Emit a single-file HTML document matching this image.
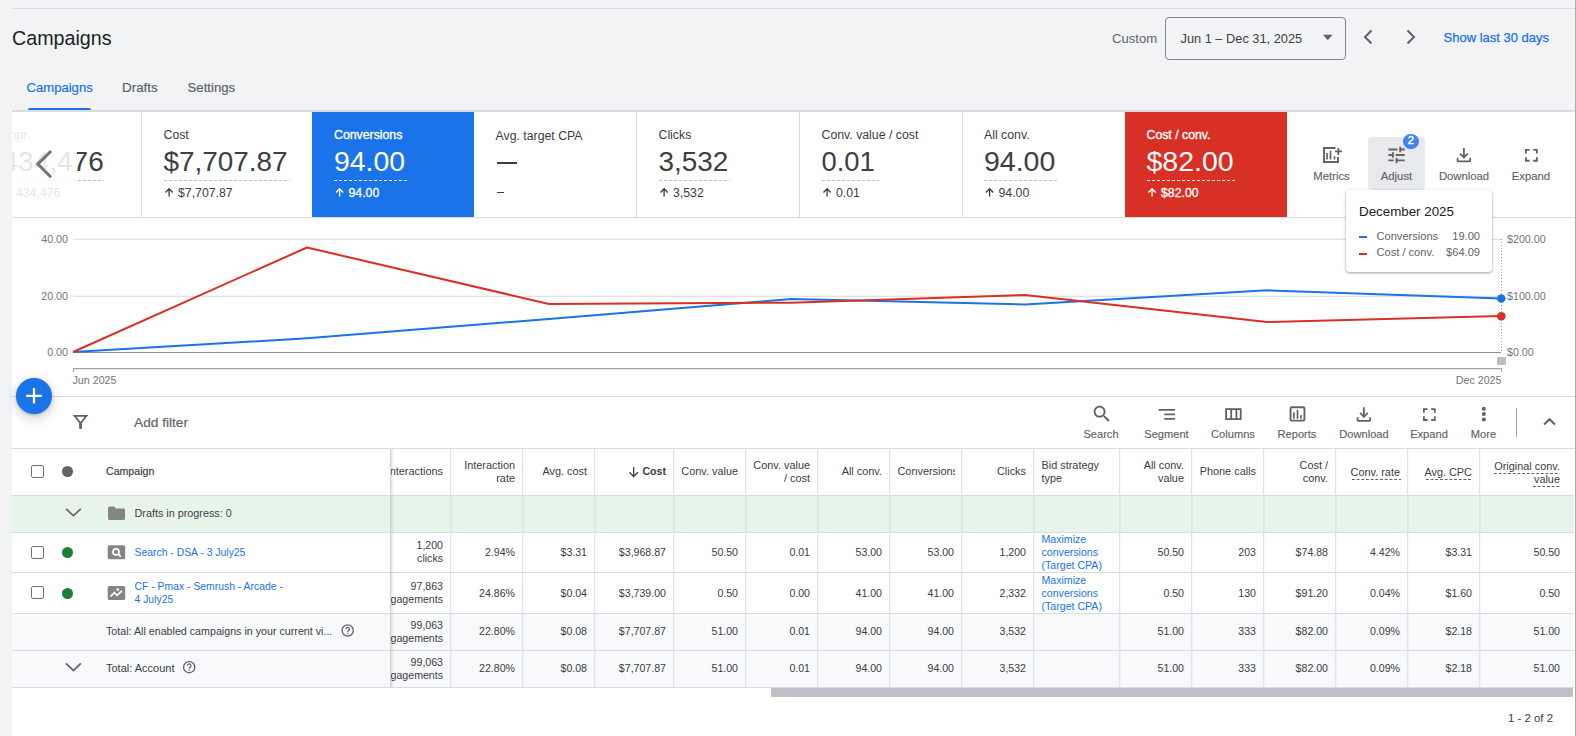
<!DOCTYPE html>
<html><head><meta charset="utf-8"><style>
html,body{margin:0;padding:0;}
body{width:1576px;height:736px;position:relative;overflow:hidden;background:#f1f3f4;font-family:"Liberation Sans",sans-serif;}
.t{position:absolute;line-height:1;white-space:nowrap;}
.r{position:absolute;box-sizing:border-box;}
svg.pg{position:absolute;left:0;top:0;pointer-events:none;}
</style></head><body>
<div class="r" style="left:12px;top:8px;width:1563px;height:1px;background:#dadce0;"></div>
<div class="t" style="left:12.00px;top:28.72px;font-size:19.7px;color:#202124;font-weight:normal;">Campaigns</div>
<div class="t" style="left:1112.00px;top:32.31px;font-size:13.1px;color:#5f6368;font-weight:normal;">Custom</div>
<div class="r" style="left:1165px;top:17px;width:181px;height:43px;border:1px solid #80868b;border-radius:4px;"></div>
<div class="t" style="left:1180.50px;top:32.56px;font-size:12.8px;color:#3c4043;font-weight:normal;">Jun 1 – Dec 31, 2025</div>
<svg class="pg" width="1576" height="736" viewBox="0 0 1576 736"><path d="M1323 34.8h9.5l-4.75 5.5z" fill="#5f6368"/><path d="M1371.5 30.5L1365 37l6.5 6.5" stroke="#5f6368" stroke-width="2" fill="none"/><path d="M1407.5 30.5L1414 37l-6.5 6.5" stroke="#5f6368" stroke-width="2" fill="none"/></svg>
<div class="t" style="left:1443.50px;top:31.39px;font-size:13px;color:#1a73e8;font-weight:normal;-webkit-text-stroke:0.25px #1a73e8;">Show last 30 days</div>
<div class="t" style="left:26.50px;top:81.31px;font-size:13.1px;color:#1a73e8;font-weight:normal;-webkit-text-stroke:0.2px #1a73e8;">Campaigns</div>
<div class="r" style="left:28px;top:108px;width:63px;height:2px;background:#1a73e8;border-radius:2px 2px 0 0;"></div>
<div class="t" style="left:122.00px;top:81.05px;font-size:13.4px;color:#5f6368;font-weight:normal;-webkit-text-stroke:0.2px #5f6368;">Drafts</div>
<div class="t" style="left:187.50px;top:81.22px;font-size:13.2px;color:#5f6368;font-weight:normal;-webkit-text-stroke:0.2px #5f6368;">Settings</div>
<div class="r" style="left:12px;top:110px;width:1563px;height:2px;background:#dadce0;"></div>
<div class="r" style="left:1575px;top:0px;width:1px;height:736px;background:#a9abae;"></div>
<div class="r" style="left:12px;top:112px;width:1563px;height:624px;background:#ffffff;"></div>
<div class="r" style="left:12px;top:217px;width:1563px;height:1px;background:#dadce0;"></div>
<div class="r" style="left:141px;top:112px;width:1px;height:105px;background:#dadce0;"></div>
<div class="r" style="left:636px;top:112px;width:1px;height:105px;background:#dadce0;"></div>
<div class="r" style="left:799px;top:112px;width:1px;height:105px;background:#dadce0;"></div>
<div class="r" style="left:962px;top:112px;width:1px;height:105px;background:#dadce0;"></div>
<div class="r" style="left:312px;top:112px;width:162px;height:105px;background:#1a73e8;"></div>
<div class="r" style="left:1125px;top:112px;width:162px;height:105px;background:#d93025;"></div>
<div class="t" style="left:2.50px;top:128.99px;font-size:12.3px;color:#3c4043;font-weight:normal;">Impr.</div>
<div class="t" style="left:2.50px;top:147.69px;font-size:28px;color:#3c4043;font-weight:normal;">434,476</div>
<div class="r" style="left:2.5px;top:180px;width:101px;height:1px;background-image:linear-gradient(to right,#bdc1c6 60%,transparent 60%);background-size:5px 1px;"></div>
<svg class="pg" width="1576" height="736" viewBox="0 0 1576 736"><path d="M8.1 196.5V188.8M4.5 192.4L8.1 188.8L11.7 192.4" stroke="#3c4043" stroke-width="1.35" fill="none"/></svg>
<div class="t" style="left:16.00px;top:186.99px;font-size:12.3px;color:#3c4043;font-weight:normal;">434,476</div>
<div class="t" style="left:163.50px;top:128.99px;font-size:12.3px;color:#3c4043;font-weight:normal;">Cost</div>
<div class="t" style="left:163.50px;top:147.78px;font-size:27.9px;color:#3c4043;font-weight:normal;">$7,707.87</div>
<div class="r" style="left:163.5px;top:180px;width:126px;height:1px;background-image:linear-gradient(to right,#bdc1c6 60%,transparent 60%);background-size:5px 1px;"></div>
<svg class="pg" width="1576" height="736" viewBox="0 0 1576 736"><path d="M169.1 196.5V188.8M165.5 192.4L169.1 188.8L172.7 192.4" stroke="#3c4043" stroke-width="1.35" fill="none"/></svg>
<div class="t" style="left:178.00px;top:186.99px;font-size:12.3px;color:#3c4043;font-weight:normal;">$7,707.87</div>
<div class="t" style="left:334.00px;top:128.99px;font-size:12.3px;color:#ffffff;font-weight:normal;-webkit-text-stroke:0.35px #fff;">Conversions</div>
<div class="t" style="left:334.00px;top:147.35px;font-size:28.4px;color:#ffffff;font-weight:normal;">94.00</div>
<div class="r" style="left:334px;top:180px;width:73px;height:1px;background-image:linear-gradient(to right,#ffffff 60%,transparent 60%);background-size:5px 1px;"></div>
<svg class="pg" width="1576" height="736" viewBox="0 0 1576 736"><path d="M339.6 196.5V188.8M336.0 192.4L339.6 188.8L343.2 192.4" stroke="#ffffff" stroke-width="1.35" fill="none"/></svg>
<div class="t" style="left:348.50px;top:186.99px;font-size:12.3px;color:#ffffff;font-weight:normal;-webkit-text-stroke:0.3px #fff;">94.00</div>
<div class="t" style="left:495.50px;top:128.99px;font-size:12.3px;color:#3c4043;font-weight:normal;"></div>
<div class="t" style="left:495.50px;top:147.69px;font-size:28px;color:#3c4043;font-weight:normal;"></div>
<div class="t" style="left:495.50px;top:186.24px;font-size:12px;color:#3c4043;font-weight:normal;"></div>
<div class="t" style="left:495.50px;top:129.99px;font-size:12.3px;color:#3c4043;font-weight:normal;">Avg. target CPA</div>
<div class="r" style="left:497px;top:162px;width:19.6px;height:2px;background:#3c4043;"></div>
<div class="r" style="left:497px;top:191.5px;width:7.3px;height:1.2px;background:#3c4043;"></div>
<div class="t" style="left:658.50px;top:128.99px;font-size:12.3px;color:#3c4043;font-weight:normal;">Clicks</div>
<div class="t" style="left:658.50px;top:147.78px;font-size:27.9px;color:#3c4043;font-weight:normal;">3,532</div>
<div class="r" style="left:658.5px;top:180px;width:71px;height:1px;background-image:linear-gradient(to right,#bdc1c6 60%,transparent 60%);background-size:5px 1px;"></div>
<svg class="pg" width="1576" height="736" viewBox="0 0 1576 736"><path d="M664.1 196.5V188.8M660.5 192.4L664.1 188.8L667.7 192.4" stroke="#3c4043" stroke-width="1.35" fill="none"/></svg>
<div class="t" style="left:673.00px;top:186.99px;font-size:12.3px;color:#3c4043;font-weight:normal;">3,532</div>
<div class="t" style="left:821.50px;top:128.99px;font-size:12.3px;color:#3c4043;font-weight:normal;">Conv. value / cost</div>
<div class="t" style="left:821.50px;top:148.20px;font-size:27.4px;color:#3c4043;font-weight:normal;">0.01</div>
<div class="r" style="left:821.5px;top:180px;width:57px;height:1px;background-image:linear-gradient(to right,#bdc1c6 60%,transparent 60%);background-size:5px 1px;"></div>
<svg class="pg" width="1576" height="736" viewBox="0 0 1576 736"><path d="M827.1 196.5V188.8M823.5 192.4L827.1 188.8L830.7 192.4" stroke="#3c4043" stroke-width="1.35" fill="none"/></svg>
<div class="t" style="left:836.00px;top:186.99px;font-size:12.3px;color:#3c4043;font-weight:normal;">0.01</div>
<div class="t" style="left:984.00px;top:128.99px;font-size:12.3px;color:#3c4043;font-weight:normal;">All conv.</div>
<div class="t" style="left:984.00px;top:147.27px;font-size:28.5px;color:#3c4043;font-weight:normal;">94.00</div>
<div class="r" style="left:984px;top:180px;width:73px;height:1px;background-image:linear-gradient(to right,#bdc1c6 60%,transparent 60%);background-size:5px 1px;"></div>
<svg class="pg" width="1576" height="736" viewBox="0 0 1576 736"><path d="M989.6 196.5V188.8M986.0 192.4L989.6 188.8L993.2 192.4" stroke="#3c4043" stroke-width="1.35" fill="none"/></svg>
<div class="t" style="left:998.50px;top:186.99px;font-size:12.3px;color:#3c4043;font-weight:normal;">94.00</div>
<div class="t" style="left:1146.50px;top:128.99px;font-size:12.3px;color:#ffffff;font-weight:normal;-webkit-text-stroke:0.35px #fff;">Cost / conv.</div>
<div class="t" style="left:1146.50px;top:147.27px;font-size:28.5px;color:#ffffff;font-weight:normal;">$82.00</div>
<div class="r" style="left:1146.5px;top:180px;width:89px;height:1px;background-image:linear-gradient(to right,#ffffff 60%,transparent 60%);background-size:5px 1px;"></div>
<svg class="pg" width="1576" height="736" viewBox="0 0 1576 736"><path d="M1152.1 196.5V188.8M1148.5 192.4L1152.1 188.8L1155.7 192.4" stroke="#ffffff" stroke-width="1.35" fill="none"/></svg>
<div class="t" style="left:1161.00px;top:186.99px;font-size:12.3px;color:#ffffff;font-weight:normal;-webkit-text-stroke:0.3px #fff;">$82.00</div>
<div class="r" style="left:12px;top:112px;width:65px;height:105px;background:rgba(255,255,255,0.87);"></div>
<svg class="pg" width="1576" height="736" viewBox="0 0 1576 736"><path d="M51.1 151L37.8 164.1 51.1 177.2" stroke="#757575" stroke-width="3" fill="none"/></svg>
<div class="r" style="left:0px;top:112px;width:12px;height:105px;background:#f1f3f4;"></div>
<div class="r" style="left:1368px;top:137px;width:57px;height:53px;background:#e8eaed;border-radius:4px;"></div>
<div class="t" style="left:1031.50px;width:600px;text-align:center;top:170.83px;font-size:11.3px;color:#5f6368;font-weight:normal;-webkit-text-stroke:0.15px #5f6368;">Metrics</div>
<div class="t" style="left:1096.50px;width:600px;text-align:center;top:170.83px;font-size:11.3px;color:#5f6368;font-weight:normal;-webkit-text-stroke:0.15px #5f6368;">Adjust</div>
<div class="t" style="left:1164.00px;width:600px;text-align:center;top:170.83px;font-size:11.3px;color:#5f6368;font-weight:normal;-webkit-text-stroke:0.15px #5f6368;">Download</div>
<div class="t" style="left:1231.00px;width:600px;text-align:center;top:170.83px;font-size:11.3px;color:#5f6368;font-weight:normal;-webkit-text-stroke:0.15px #5f6368;">Expand</div>
<svg class="pg" width="1576" height="736" viewBox="0 0 1576 736"><path d="M1335.5 148H1324V162H1338V157" stroke="#5f6368" stroke-width="1.9" fill="none"/><path d="M1335 151.4H1342M1338.4 148V155" stroke="#5f6368" stroke-width="1.8"/><path d="M1327 153V159.4M1330.5 150.8V159.4M1334.5 156.2V159.4" stroke="#5f6368" stroke-width="1.7"/><path transform="translate(1385.6 144.03) scale(0.0228) translate(0 960)" d="M440-120v-240h80v80h320v80H520v80h-80Zm-320-80v-80h240v80H120Zm160-160v-80H120v-80h160v-80h80v240h-80Zm160-80v-80h400v80H440Zm160-160v-240h80v80h160v80H680v80h-80Zm-480-80v-80h400v80H120Z" fill="#5f6368"/><path transform="translate(1453.1 144.3) scale(0.0225) translate(0 960)" d="M480-320 280-520l56-58 104 104v-326h80v326l104-104 56 58-200 200ZM240-160q-33 0-56.5-23.5T160-240v-120h80v120h480v-120h80v120q0 33-23.5 56.5T720-160H240Z" fill="#5f6368"/><path transform="translate(1520.43 144.33) scale(0.914)" d="M7 14H5v5h5v-2H7v-3zm-2-4h2V7h3V5H5v5zm12 7h-3v2h5v-5h-2v3zM14 5v2h3v3h2V5h-5z" fill="#5f6368"/></svg>
<div class="r" style="left:1403.4px;top:133.6px;width:15.2px;height:15.2px;border-radius:50%;background:#3f84f1;"></div>
<div class="t" style="left:1111.00px;width:600px;text-align:center;top:134.83px;font-size:11.3px;color:#ffffff;font-weight:normal;-webkit-text-stroke:0.4px #fff;">2</div>
<div class="r" style="left:12px;top:396px;width:1563px;height:1px;background:#dadce0;"></div>
<div class="r" style="left:73px;top:238px;width:1428px;height:1px;background:#f7f7f7;"></div>
<div class="r" style="left:73px;top:239px;width:1428px;height:1px;background:#e2e2e2;"></div>
<div class="r" style="left:73px;top:295px;width:1428px;height:1px;background:#f7f7f7;"></div>
<div class="r" style="left:73px;top:296px;width:1428px;height:1px;background:#e2e2e2;"></div>
<div class="r" style="left:73px;top:352px;width:1428px;height:1px;background:#8a8a8a;"></div>
<div class="r" style="left:73px;top:368px;width:1428px;height:1px;background:#a3a3a3;"></div>
<div class="r" style="left:73px;top:369px;width:1428px;height:1px;background:#ececec;"></div>
<div class="r" style="left:73px;top:368px;width:1px;height:4px;background:#a3a3a3;"></div>
<div class="r" style="left:1501px;top:368px;width:1px;height:4px;background:#a3a3a3;"></div>
<div class="t" style="right:1508.00px;top:234.34px;font-size:10.7px;color:#70757a;font-weight:normal;">40.00</div>
<div class="t" style="right:1508.00px;top:291.34px;font-size:10.7px;color:#70757a;font-weight:normal;">20.00</div>
<div class="t" style="right:1508.00px;top:347.34px;font-size:10.7px;color:#70757a;font-weight:normal;">0.00</div>
<div class="t" style="left:1507.00px;top:234.34px;font-size:10.7px;color:#70757a;font-weight:normal;">$200.00</div>
<div class="t" style="left:1507.00px;top:291.34px;font-size:10.7px;color:#70757a;font-weight:normal;">$100.00</div>
<div class="t" style="left:1507.00px;top:347.34px;font-size:10.7px;color:#70757a;font-weight:normal;">$0.00</div>
<div class="t" style="left:72.50px;top:375.34px;font-size:10.7px;color:#70757a;font-weight:normal;">Jun 2025</div>
<div class="t" style="right:74.50px;top:375.34px;font-size:10.7px;color:#70757a;font-weight:normal;">Dec 2025</div>
<div class="r" style="left:1501px;top:239px;width:1px;height:113px;background-image:linear-gradient(to bottom,#9aa0a6 50%,transparent 50%);background-size:1px 3px;"></div>
<div class="r" style="left:1497px;top:356.5px;width:9px;height:8px;background:#bdc1c6;border-radius:1px;"></div>
<svg class="pg" width="1576" height="736" viewBox="0 0 1576 736"><polyline points="73,352 307,338.3 549,319 791,299 1025,304.5 1267,290.3 1501,298.6" fill="none" stroke="#1a73e8" stroke-width="2" stroke-linejoin="round"/><polyline points="73,352 307,247.5 549,304 791,302.7 1025,295 1267,322 1501,316" fill="none" stroke="#d93025" stroke-width="2" stroke-linejoin="round"/><circle cx="1501.3" cy="298.5" r="4.3" fill="#1a73e8"/><circle cx="1501.3" cy="316.3" r="4.3" fill="#d93025"/></svg>
<div class="r" style="left:1346px;top:190px;width:146px;height:82px;background:#fff;border-radius:4px;box-shadow:0 1px 2px rgba(60,64,67,0.3),0 1px 3px 1px rgba(60,64,67,0.15);"></div>
<div class="t" style="left:1359.00px;top:205.10px;font-size:13.35px;color:#202124;font-weight:normal;">December 2025</div>
<div class="r" style="left:1359px;top:236px;width:8px;height:2px;background:#1a73e8;"></div>
<div class="r" style="left:1359px;top:252.5px;width:8px;height:2px;background:#d93025;"></div>
<div class="t" style="left:1376.50px;top:231.00px;font-size:11.1px;color:#5f6368;font-weight:normal;">Conversions</div>
<div class="t" style="right:96.00px;top:231.00px;font-size:11.1px;color:#5f6368;font-weight:normal;">19.00</div>
<div class="t" style="left:1376.50px;top:247.00px;font-size:11.1px;color:#5f6368;font-weight:normal;">Cost / conv.</div>
<div class="t" style="right:96.00px;top:247.00px;font-size:11.1px;color:#5f6368;font-weight:normal;">$64.09</div>
<div class="r" style="left:12px;top:448px;width:1563px;height:1px;background:#dadce0;"></div>
<div class="t" style="left:134.00px;top:415.80px;font-size:13.7px;color:#5f6368;font-weight:normal;-webkit-text-stroke:0.2px #5f6368;">Add filter</div>
<div class="t" style="left:801.00px;width:600px;text-align:center;top:429.00px;font-size:11.1px;color:#5f6368;font-weight:normal;-webkit-text-stroke:0.15px #5f6368;">Search</div>
<div class="t" style="left:866.50px;width:600px;text-align:center;top:429.00px;font-size:11.1px;color:#5f6368;font-weight:normal;-webkit-text-stroke:0.15px #5f6368;">Segment</div>
<div class="t" style="left:933.00px;width:600px;text-align:center;top:429.00px;font-size:11.1px;color:#5f6368;font-weight:normal;-webkit-text-stroke:0.15px #5f6368;">Columns</div>
<div class="t" style="left:997.00px;width:600px;text-align:center;top:429.00px;font-size:11.1px;color:#5f6368;font-weight:normal;-webkit-text-stroke:0.15px #5f6368;">Reports</div>
<div class="t" style="left:1064.00px;width:600px;text-align:center;top:429.00px;font-size:11.1px;color:#5f6368;font-weight:normal;-webkit-text-stroke:0.15px #5f6368;">Download</div>
<div class="t" style="left:1129.00px;width:600px;text-align:center;top:429.00px;font-size:11.1px;color:#5f6368;font-weight:normal;-webkit-text-stroke:0.15px #5f6368;">Expand</div>
<div class="t" style="left:1183.50px;width:600px;text-align:center;top:429.00px;font-size:11.1px;color:#5f6368;font-weight:normal;-webkit-text-stroke:0.15px #5f6368;">More</div>
<svg class="pg" width="1576" height="736" viewBox="0 0 1576 736"><path d="M74.6 415.9H86.5L80.55 423.2Z" fill="none" stroke="#5f6368" stroke-width="1.8" stroke-linejoin="miter"/><rect x="79.15" y="421.8" width="2.8" height="7.1" fill="#5f6368"/><path transform="translate(1090.96 403.05) scale(0.91)" d="M15.5 14h-.79l-.28-.27C15.41 12.59 16 11.11 16 9.5 16 5.91 13.09 3 9.5 3S3 5.91 3 9.5 5.91 16 9.5 16c1.61 0 3.09-.59 4.23-1.57l.27.28v.79l5 4.99L20.49 19l-4.99-5zm-6 0C7.01 14 5 11.99 5 9.5S7.01 5 9.5 5 14 7.01 14 9.5 11.99 14 9.5 14z" fill="#5f6368"/><path d="M1158.6 409.8H1175.1M1164.3 414.3H1175.1M1164.3 418.9H1175.1" stroke="#5f6368" stroke-width="1.8"/><rect x="1226.1" y="409.1" width="14.6" height="10" fill="none" stroke="#5f6368" stroke-width="1.8"/><path d="M1231.2 409.1V419.1M1236.4 409.1V419.1" stroke="#5f6368" stroke-width="1.8"/><rect x="1290.55" y="407.25" width="13.9" height="13.4" rx="1.3" fill="none" stroke="#5f6368" stroke-width="1.9"/><path d="M1293.9 412.4V418.7M1297.5 409.8V418.7M1301 415.2V418.7" stroke="#5f6368" stroke-width="1.7"/><path transform="translate(1353.1 403.7) scale(0.0225) translate(0 960)" d="M480-320 280-520l56-58 104 104v-326h80v326l104-104 56 58-200 200ZM240-160q-33 0-56.5-23.5T160-240v-120h80v120h480v-120h80v120q0 33-23.5 56.5T720-160H240Z" fill="#5f6368"/><path transform="translate(1418.46 403.66) scale(0.907)" d="M7 14H5v5h5v-2H7v-3zm-2-4h2V7h3V5H5v5zm12 7h-3v2h5v-5h-2v3zM14 5v2h3v3h2V5h-5z" fill="#5f6368"/><circle cx="1483.8" cy="408.7" r="2" fill="#5f6368"/><circle cx="1483.8" cy="414.1" r="2" fill="#5f6368"/><circle cx="1483.8" cy="419.5" r="2" fill="#5f6368"/><path d="M1544 424.4L1549.5 419.2L1555 424.4" fill="none" stroke="#5f6368" stroke-width="2"/></svg>
<div class="r" style="left:1516px;top:408px;width:1px;height:29px;background:#9aa0a6;"></div>
<div class="r" style="left:12px;top:496px;width:1562px;height:36px;background:#e6f4ea;"></div>
<div class="r" style="left:12px;top:613px;width:1562px;height:74px;background:#f8f9fa;"></div>
<div class="r" style="left:12px;top:495px;width:1562px;height:1px;background:#dadce0;"></div>
<div class="r" style="left:12px;top:532px;width:1562px;height:1px;background:#dadce0;"></div>
<div class="r" style="left:12px;top:572px;width:1562px;height:1px;background:#dadce0;"></div>
<div class="r" style="left:12px;top:613px;width:1562px;height:1px;background:#dadce0;"></div>
<div class="r" style="left:12px;top:650px;width:1562px;height:1px;background:#dadce0;"></div>
<div class="r" style="left:12px;top:687px;width:1562px;height:1px;background:#dadce0;"></div>
<div class="r" style="left:450px;top:449px;width:1px;height:238px;background:#e2e3e7;"></div>
<div class="r" style="left:451px;top:449px;width:1px;height:238px;background:rgba(60,64,67,0.04);"></div>
<div class="r" style="left:522px;top:449px;width:1px;height:238px;background:#e2e3e7;"></div>
<div class="r" style="left:523px;top:449px;width:1px;height:238px;background:rgba(60,64,67,0.04);"></div>
<div class="r" style="left:594px;top:449px;width:1px;height:238px;background:#e2e3e7;"></div>
<div class="r" style="left:595px;top:449px;width:1px;height:238px;background:rgba(60,64,67,0.04);"></div>
<div class="r" style="left:673px;top:449px;width:1px;height:238px;background:#e2e3e7;"></div>
<div class="r" style="left:674px;top:449px;width:1px;height:238px;background:rgba(60,64,67,0.04);"></div>
<div class="r" style="left:745px;top:449px;width:1px;height:238px;background:#e2e3e7;"></div>
<div class="r" style="left:746px;top:449px;width:1px;height:238px;background:rgba(60,64,67,0.04);"></div>
<div class="r" style="left:817px;top:449px;width:1px;height:238px;background:#e2e3e7;"></div>
<div class="r" style="left:818px;top:449px;width:1px;height:238px;background:rgba(60,64,67,0.04);"></div>
<div class="r" style="left:889px;top:449px;width:1px;height:238px;background:#e2e3e7;"></div>
<div class="r" style="left:890px;top:449px;width:1px;height:238px;background:rgba(60,64,67,0.04);"></div>
<div class="r" style="left:961px;top:449px;width:1px;height:238px;background:#e2e3e7;"></div>
<div class="r" style="left:962px;top:449px;width:1px;height:238px;background:rgba(60,64,67,0.04);"></div>
<div class="r" style="left:1033px;top:449px;width:1px;height:238px;background:#e2e3e7;"></div>
<div class="r" style="left:1034px;top:449px;width:1px;height:238px;background:rgba(60,64,67,0.04);"></div>
<div class="r" style="left:1119px;top:449px;width:1px;height:238px;background:#e2e3e7;"></div>
<div class="r" style="left:1120px;top:449px;width:1px;height:238px;background:rgba(60,64,67,0.04);"></div>
<div class="r" style="left:1191px;top:449px;width:1px;height:238px;background:#e2e3e7;"></div>
<div class="r" style="left:1192px;top:449px;width:1px;height:238px;background:rgba(60,64,67,0.04);"></div>
<div class="r" style="left:1263px;top:449px;width:1px;height:238px;background:#e2e3e7;"></div>
<div class="r" style="left:1264px;top:449px;width:1px;height:238px;background:rgba(60,64,67,0.04);"></div>
<div class="r" style="left:1335px;top:449px;width:1px;height:238px;background:#e2e3e7;"></div>
<div class="r" style="left:1336px;top:449px;width:1px;height:238px;background:rgba(60,64,67,0.04);"></div>
<div class="r" style="left:1407px;top:449px;width:1px;height:238px;background:#e2e3e7;"></div>
<div class="r" style="left:1408px;top:449px;width:1px;height:238px;background:rgba(60,64,67,0.04);"></div>
<div class="r" style="left:1479px;top:449px;width:1px;height:238px;background:#e2e3e7;"></div>
<div class="r" style="left:1480px;top:449px;width:1px;height:238px;background:rgba(60,64,67,0.04);"></div>
<div class="t" style="right:1133.00px;top:466.17px;font-size:10.9px;color:#3c4043;font-weight:normal;">Interactions</div>
<div class="t" style="right:1061.00px;top:460.17px;font-size:10.9px;color:#3c4043;font-weight:normal;">Interaction</div>
<div class="t" style="right:1061.00px;top:473.17px;font-size:10.9px;color:#3c4043;font-weight:normal;">rate</div>
<div class="t" style="right:989.00px;top:466.17px;font-size:10.9px;color:#3c4043;font-weight:normal;">Avg. cost</div>
<div class="t" style="right:910.00px;top:466.42px;font-size:10.6px;color:#3c4043;font-weight:bold;">Cost</div>
<svg class="pg" width="1576" height="736" viewBox="0 0 1576 736"><path d="M633.7 467V476.5M629.5 472.3l4.2 4.2 4.2-4.2" fill="none" stroke="#3c4043" stroke-width="1.3"/></svg>
<div class="t" style="right:838.00px;top:466.17px;font-size:10.9px;color:#3c4043;font-weight:normal;">Conv. value</div>
<div class="t" style="right:766.00px;top:460.17px;font-size:10.9px;color:#3c4043;font-weight:normal;">Conv. value</div>
<div class="t" style="right:766.00px;top:473.17px;font-size:10.9px;color:#3c4043;font-weight:normal;">/ cost</div>
<div class="t" style="right:694.00px;top:466.17px;font-size:10.9px;color:#3c4043;font-weight:normal;">All conv.</div>
<div class="t" style="left:897.5px;top:465.69px;width:57px;overflow:hidden;font-size:10.9px;color:#3c4043;">Conversions</div>
<div class="t" style="right:550.00px;top:466.17px;font-size:10.9px;color:#3c4043;font-weight:normal;">Clicks</div>
<div class="t" style="left:1041.50px;top:460.17px;font-size:10.9px;color:#3c4043;font-weight:normal;">Bid strategy</div>
<div class="t" style="left:1041.50px;top:473.17px;font-size:10.9px;color:#3c4043;font-weight:normal;">type</div>
<div class="t" style="right:392.00px;top:460.17px;font-size:10.9px;color:#3c4043;font-weight:normal;">All conv.</div>
<div class="t" style="right:392.00px;top:473.17px;font-size:10.9px;color:#3c4043;font-weight:normal;">value</div>
<div class="t" style="right:320.00px;top:466.17px;font-size:10.9px;color:#3c4043;font-weight:normal;">Phone calls</div>
<div class="t" style="right:248.00px;top:460.17px;font-size:10.9px;color:#3c4043;font-weight:normal;">Cost /</div>
<div class="t" style="right:248.00px;top:473.17px;font-size:10.9px;color:#3c4043;font-weight:normal;">conv.</div>
<div class="t" style="right:176.00px;top:467.17px;font-size:10.9px;color:#3c4043;font-weight:normal;">Conv. rate</div>
<div class="r" style="left:1352px;top:479px;width:49px;height:1px;background-image:linear-gradient(to right,#5f6368 62%,transparent 62%);background-size:4.7px 1px;"></div>
<div class="t" style="right:104.00px;top:467.17px;font-size:10.9px;color:#3c4043;font-weight:normal;">Avg. CPC</div>
<div class="r" style="left:1426px;top:479px;width:46px;height:1px;background-image:linear-gradient(to right,#5f6368 62%,transparent 62%);background-size:4.7px 1px;"></div>
<div class="t" style="right:16.00px;top:461.17px;font-size:10.9px;color:#3c4043;font-weight:normal;">Original conv.</div>
<div class="t" style="right:16.00px;top:474.17px;font-size:10.9px;color:#3c4043;font-weight:normal;">value</div>
<div class="r" style="left:1494px;top:473px;width:66px;height:1px;background-image:linear-gradient(to right,#5f6368 62%,transparent 62%);background-size:4.7px 1px;"></div>
<div class="r" style="left:1533px;top:486px;width:27px;height:1px;background-image:linear-gradient(to right,#5f6368 62%,transparent 62%);background-size:4.7px 1px;"></div>
<div class="t" style="right:1133.00px;top:540.42px;font-size:10.6px;color:#3c4043;font-weight:normal;">1,200</div>
<div class="t" style="right:1133.00px;top:553.42px;font-size:10.6px;color:#3c4043;font-weight:normal;">clicks</div>
<div class="t" style="right:1061.00px;top:547.42px;font-size:10.6px;color:#3c4043;font-weight:normal;">2.94%</div>
<div class="t" style="right:989.00px;top:547.42px;font-size:10.6px;color:#3c4043;font-weight:normal;">$3.31</div>
<div class="t" style="right:910.00px;top:547.42px;font-size:10.6px;color:#3c4043;font-weight:normal;">$3,968.87</div>
<div class="t" style="right:838.00px;top:547.42px;font-size:10.6px;color:#3c4043;font-weight:normal;">50.50</div>
<div class="t" style="right:766.00px;top:547.42px;font-size:10.6px;color:#3c4043;font-weight:normal;">0.01</div>
<div class="t" style="right:694.00px;top:547.42px;font-size:10.6px;color:#3c4043;font-weight:normal;">53.00</div>
<div class="t" style="right:622.00px;top:547.42px;font-size:10.6px;color:#3c4043;font-weight:normal;">53.00</div>
<div class="t" style="right:550.00px;top:547.42px;font-size:10.6px;color:#3c4043;font-weight:normal;">1,200</div>
<div class="t" style="left:1041.50px;top:534.42px;font-size:10.6px;color:#1a73e8;font-weight:normal;">Maximize</div>
<div class="t" style="left:1041.50px;top:547.42px;font-size:10.6px;color:#1a73e8;font-weight:normal;">conversions</div>
<div class="t" style="left:1041.50px;top:560.42px;font-size:10.6px;color:#1a73e8;font-weight:normal;">(Target CPA)</div>
<div class="t" style="right:392.00px;top:547.42px;font-size:10.6px;color:#3c4043;font-weight:normal;">50.50</div>
<div class="t" style="right:320.00px;top:547.42px;font-size:10.6px;color:#3c4043;font-weight:normal;">203</div>
<div class="t" style="right:248.00px;top:547.42px;font-size:10.6px;color:#3c4043;font-weight:normal;">$74.88</div>
<div class="t" style="right:176.00px;top:547.42px;font-size:10.6px;color:#3c4043;font-weight:normal;">4.42%</div>
<div class="t" style="right:104.00px;top:547.42px;font-size:10.6px;color:#3c4043;font-weight:normal;">$3.31</div>
<div class="t" style="right:16.00px;top:547.42px;font-size:10.6px;color:#3c4043;font-weight:normal;">50.50</div>
<div class="t" style="right:1133.00px;top:581.42px;font-size:10.6px;color:#3c4043;font-weight:normal;">97,863</div>
<div class="t" style="right:1133.00px;top:594.42px;font-size:10.6px;color:#3c4043;font-weight:normal;">engagements</div>
<div class="t" style="right:1061.00px;top:588.42px;font-size:10.6px;color:#3c4043;font-weight:normal;">24.86%</div>
<div class="t" style="right:989.00px;top:588.42px;font-size:10.6px;color:#3c4043;font-weight:normal;">$0.04</div>
<div class="t" style="right:910.00px;top:588.42px;font-size:10.6px;color:#3c4043;font-weight:normal;">$3,739.00</div>
<div class="t" style="right:838.00px;top:588.42px;font-size:10.6px;color:#3c4043;font-weight:normal;">0.50</div>
<div class="t" style="right:766.00px;top:588.42px;font-size:10.6px;color:#3c4043;font-weight:normal;">0.00</div>
<div class="t" style="right:694.00px;top:588.42px;font-size:10.6px;color:#3c4043;font-weight:normal;">41.00</div>
<div class="t" style="right:622.00px;top:588.42px;font-size:10.6px;color:#3c4043;font-weight:normal;">41.00</div>
<div class="t" style="right:550.00px;top:588.42px;font-size:10.6px;color:#3c4043;font-weight:normal;">2,332</div>
<div class="t" style="left:1041.50px;top:575.42px;font-size:10.6px;color:#1a73e8;font-weight:normal;">Maximize</div>
<div class="t" style="left:1041.50px;top:588.42px;font-size:10.6px;color:#1a73e8;font-weight:normal;">conversions</div>
<div class="t" style="left:1041.50px;top:601.42px;font-size:10.6px;color:#1a73e8;font-weight:normal;">(Target CPA)</div>
<div class="t" style="right:392.00px;top:588.42px;font-size:10.6px;color:#3c4043;font-weight:normal;">0.50</div>
<div class="t" style="right:320.00px;top:588.42px;font-size:10.6px;color:#3c4043;font-weight:normal;">130</div>
<div class="t" style="right:248.00px;top:588.42px;font-size:10.6px;color:#3c4043;font-weight:normal;">$91.20</div>
<div class="t" style="right:176.00px;top:588.42px;font-size:10.6px;color:#3c4043;font-weight:normal;">0.04%</div>
<div class="t" style="right:104.00px;top:588.42px;font-size:10.6px;color:#3c4043;font-weight:normal;">$1.60</div>
<div class="t" style="right:16.00px;top:588.42px;font-size:10.6px;color:#3c4043;font-weight:normal;">0.50</div>
<div class="t" style="right:1133.00px;top:620.42px;font-size:10.6px;color:#3c4043;font-weight:normal;">99,063</div>
<div class="t" style="right:1133.00px;top:633.42px;font-size:10.6px;color:#3c4043;font-weight:normal;">engagements</div>
<div class="t" style="right:1061.00px;top:626.42px;font-size:10.6px;color:#3c4043;font-weight:normal;">22.80%</div>
<div class="t" style="right:989.00px;top:626.42px;font-size:10.6px;color:#3c4043;font-weight:normal;">$0.08</div>
<div class="t" style="right:910.00px;top:626.42px;font-size:10.6px;color:#3c4043;font-weight:normal;">$7,707.87</div>
<div class="t" style="right:838.00px;top:626.42px;font-size:10.6px;color:#3c4043;font-weight:normal;">51.00</div>
<div class="t" style="right:766.00px;top:626.42px;font-size:10.6px;color:#3c4043;font-weight:normal;">0.01</div>
<div class="t" style="right:694.00px;top:626.42px;font-size:10.6px;color:#3c4043;font-weight:normal;">94.00</div>
<div class="t" style="right:622.00px;top:626.42px;font-size:10.6px;color:#3c4043;font-weight:normal;">94.00</div>
<div class="t" style="right:550.00px;top:626.42px;font-size:10.6px;color:#3c4043;font-weight:normal;">3,532</div>
<div class="t" style="right:392.00px;top:626.42px;font-size:10.6px;color:#3c4043;font-weight:normal;">51.00</div>
<div class="t" style="right:320.00px;top:626.42px;font-size:10.6px;color:#3c4043;font-weight:normal;">333</div>
<div class="t" style="right:248.00px;top:626.42px;font-size:10.6px;color:#3c4043;font-weight:normal;">$82.00</div>
<div class="t" style="right:176.00px;top:626.42px;font-size:10.6px;color:#3c4043;font-weight:normal;">0.09%</div>
<div class="t" style="right:104.00px;top:626.42px;font-size:10.6px;color:#3c4043;font-weight:normal;">$2.18</div>
<div class="t" style="right:16.00px;top:626.42px;font-size:10.6px;color:#3c4043;font-weight:normal;">51.00</div>
<div class="t" style="right:1133.00px;top:657.42px;font-size:10.6px;color:#3c4043;font-weight:normal;">99,063</div>
<div class="t" style="right:1133.00px;top:670.42px;font-size:10.6px;color:#3c4043;font-weight:normal;">engagements</div>
<div class="t" style="right:1061.00px;top:663.42px;font-size:10.6px;color:#3c4043;font-weight:normal;">22.80%</div>
<div class="t" style="right:989.00px;top:663.42px;font-size:10.6px;color:#3c4043;font-weight:normal;">$0.08</div>
<div class="t" style="right:910.00px;top:663.42px;font-size:10.6px;color:#3c4043;font-weight:normal;">$7,707.87</div>
<div class="t" style="right:838.00px;top:663.42px;font-size:10.6px;color:#3c4043;font-weight:normal;">51.00</div>
<div class="t" style="right:766.00px;top:663.42px;font-size:10.6px;color:#3c4043;font-weight:normal;">0.01</div>
<div class="t" style="right:694.00px;top:663.42px;font-size:10.6px;color:#3c4043;font-weight:normal;">94.00</div>
<div class="t" style="right:622.00px;top:663.42px;font-size:10.6px;color:#3c4043;font-weight:normal;">94.00</div>
<div class="t" style="right:550.00px;top:663.42px;font-size:10.6px;color:#3c4043;font-weight:normal;">3,532</div>
<div class="t" style="right:392.00px;top:663.42px;font-size:10.6px;color:#3c4043;font-weight:normal;">51.00</div>
<div class="t" style="right:320.00px;top:663.42px;font-size:10.6px;color:#3c4043;font-weight:normal;">333</div>
<div class="t" style="right:248.00px;top:663.42px;font-size:10.6px;color:#3c4043;font-weight:normal;">$82.00</div>
<div class="t" style="right:176.00px;top:663.42px;font-size:10.6px;color:#3c4043;font-weight:normal;">0.09%</div>
<div class="t" style="right:104.00px;top:663.42px;font-size:10.6px;color:#3c4043;font-weight:normal;">$2.18</div>
<div class="t" style="right:16.00px;top:663.42px;font-size:10.6px;color:#3c4043;font-weight:normal;">51.00</div>
<div class="r" style="left:12px;top:449px;width:379px;height:46px;background:#fff;"></div>
<div class="r" style="left:12px;top:496px;width:379px;height:36px;background:#e6f4ea;"></div>
<div class="r" style="left:12px;top:533px;width:379px;height:39px;background:#fff;"></div>
<div class="r" style="left:12px;top:573px;width:379px;height:40px;background:#fff;"></div>
<div class="r" style="left:12px;top:614px;width:379px;height:36px;background:#f8f9fa;"></div>
<div class="r" style="left:12px;top:651px;width:379px;height:36px;background:#f8f9fa;"></div>
<div class="r" style="left:390px;top:449px;width:1px;height:238px;background:#d0d0d0;"></div>
<div class="r" style="left:391px;top:449px;width:3px;height:238px;background:linear-gradient(to right,rgba(0,0,0,0.10),rgba(0,0,0,0));"></div>
<div class="r" style="left:31px;top:465px;width:13px;height:13px;border:1.5px solid #6f7377;border-radius:2px;"></div>
<div class="r" style="left:62px;top:466px;width:11px;height:11px;border-radius:50%;background:#5f6368;"></div>
<div class="t" style="left:106.00px;top:466.42px;font-size:10.6px;color:#3c4043;font-weight:normal;-webkit-text-stroke:0.2px #3c4043;">Campaign</div>
<svg class="pg" width="1576" height="736" viewBox="0 0 1576 736"><path d="M66 508.8L73.4 515.6L80.8 508.8" fill="none" stroke="#5f6368" stroke-width="1.6"/><path d="M108 508a1.5 1.5 0 0 1 1.5-1.5h4.5l2 2h7.5a1.5 1.5 0 0 1 1.5 1.5v8.5a1.5 1.5 0 0 1-1.5 1.5h-14a1.5 1.5 0 0 1-1.5-1.5z" fill="#858585"/><rect x="107.7" y="545.3" width="17.5" height="14" rx="1.5" fill="#858585"/><circle cx="116" cy="551.9" r="3" fill="none" stroke="#fff" stroke-width="1.7"/><path d="M118.2 554.1l2.6 2.6" stroke="#fff" stroke-width="1.9"/><rect x="107.7" y="586" width="17.5" height="14" rx="1.5" fill="#858585"/><path d="M110.5 596.5l3.8-3.8 2.8 2.6 4.8-4.5" fill="none" stroke="#fff" stroke-width="1.7"/><path d="M116.2 589.5h3M117.7 588v3" stroke="#fff" stroke-width="1.1"/><circle cx="347.7" cy="630.5" r="5.6" fill="none" stroke="#5f6368" stroke-width="1.3"/><path d="M345.9 629.1a1.8 1.8 0 1 1 2.6 1.6c-.6.3-.8.6-.8 1.3" fill="none" stroke="#5f6368" stroke-width="1.2"/><circle cx="347.7" cy="633.6" r=".75" fill="#5f6368"/><circle cx="189.2" cy="667.2" r="5.6" fill="none" stroke="#5f6368" stroke-width="1.3"/><path d="M187.39999999999998 665.8000000000001a1.8 1.8 0 1 1 2.6 1.6c-.6.3-.8.6-.8 1.3" fill="none" stroke="#5f6368" stroke-width="1.2"/><circle cx="189.2" cy="670.3000000000001" r=".75" fill="#5f6368"/><path d="M66 663.3L73.4 670.6L80.8 663.3" fill="none" stroke="#5f6368" stroke-width="1.8"/></svg>
<div class="t" style="left:134.50px;top:508.26px;font-size:10.8px;color:#3c4043;font-weight:normal;">Drafts in progress: 0</div>
<div class="r" style="left:31px;top:546px;width:13px;height:13px;border:1.5px solid #6f7377;border-radius:2px;"></div>
<div class="r" style="left:62px;top:547px;width:11px;height:11px;border-radius:50%;background:#188038;"></div>
<div class="t" style="left:134.50px;top:547.59px;font-size:10.4px;color:#1a73e8;font-weight:normal;">Search - DSA - 3 July25</div>
<div class="r" style="left:31px;top:586px;width:13px;height:13px;border:1.5px solid #6f7377;border-radius:2px;"></div>
<div class="r" style="left:62px;top:587.5px;width:11px;height:11px;border-radius:50%;background:#188038;"></div>
<div class="t" style="left:134.50px;top:581.59px;font-size:10.4px;color:#1a73e8;font-weight:normal;">CF - Pmax - Semrush - Arcade -</div>
<div class="t" style="left:134.50px;top:594.59px;font-size:10.4px;color:#1a73e8;font-weight:normal;">4 July25</div>
<div class="t" style="left:106.00px;top:626.34px;font-size:10.7px;color:#3c4043;font-weight:normal;">Total: All enabled campaigns in your current vi...</div>
<div class="t" style="left:106.00px;top:663.09px;font-size:11px;color:#3c4043;font-weight:normal;">Total: Account</div>
<div class="r" style="left:771px;top:688px;width:802px;height:9px;background:#bdc1c6;"></div>
<div class="t" style="right:23.00px;top:712.75px;font-size:11.4px;color:#3c4043;font-weight:normal;">1 - 2 of 2</div>
<div class="r" style="left:16px;top:378px;width:36px;height:36px;border-radius:50%;background:#1a73e8;box-shadow:0 1px 3px rgba(60,64,67,0.3),0 4px 8px 3px rgba(60,64,67,0.15);"></div>
<svg class="pg" width="1576" height="736" viewBox="0 0 1576 736"><path d="M34 388V403.5M26.2 395.8H41.8" stroke="#fff" stroke-width="2.3"/></svg>
</body></html>
